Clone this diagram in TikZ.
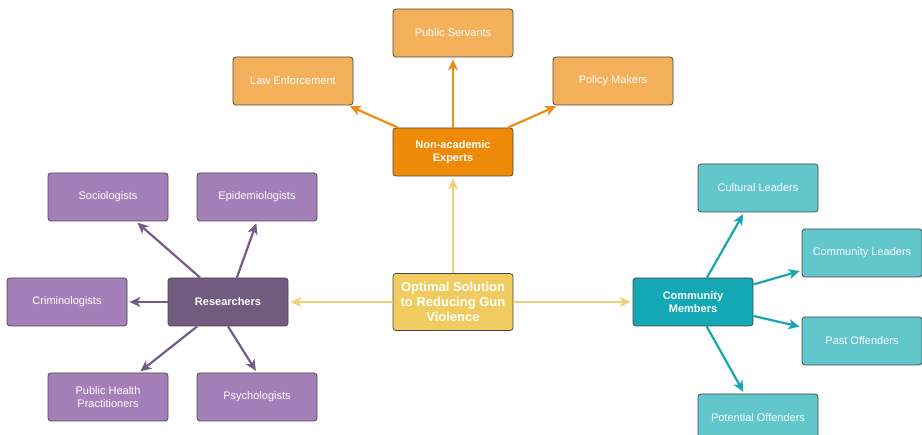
\documentclass[tikz,border=0pt]{standalone}
\usepackage{fontspec}
\setmainfont{Liberation Sans}
\usetikzlibrary{arrows.meta}
\definecolor{boxline}{RGB}{72,72,72}
\definecolor{sunfill}{RGB}{240,204,96}
\definecolor{sunline}{RGB}{242,208,118}
\definecolor{orangehub}{RGB}{239,138,8}
\definecolor{orangeleaf}{RGB}{244,176,90}
\definecolor{orangeline}{RGB}{236,140,28}
\definecolor{purplehub}{RGB}{115,90,128}
\definecolor{purpleleaf}{RGB}{165,127,184}
\definecolor{purpleline}{RGB}{115,92,135}
\definecolor{tealhub}{RGB}{20,168,180}
\definecolor{tealleaf}{RGB}{98,198,205}
\definecolor{tealline}{RGB}{22,166,178}

\begin{document}
\begin{tikzpicture}[x=1pt,y=-1pt,
  box/.style={draw=boxline, line width=0.8pt, rounded corners=3pt, text=white,
    minimum width=120pt, minimum height=48pt, align=center,
    font=\fontsize{11}{13.5}\selectfont},
  hub/.style={box, font=\fontsize{11}{13.5}\selectfont\bfseries},
  link/.style={->, line width=2.2pt, shorten >=2pt},
  >={Stealth[length=11pt,width=10pt,inset=3pt]}]
\clip (0,0) rectangle (922,435);
\useasboundingbox (0,0) rectangle (922,435);

\node[hub, fill=sunfill, minimum height=57pt, font=\fontsize{13}{15}\selectfont\bfseries] (opt) at (453,302) {Optimal Solution\\to Reducing Gun\\Violence};

\node[hub, fill=orangehub] (na) at (453,152) {Non-academic\\Experts};
\node[box, fill=orangeleaf] (ps) at (453,33) {Public Servants};
\node[box, fill=orangeleaf] (le) at (293,81) {Law Enforcement};
\node[box, fill=orangeleaf] (pm) at (613,81) {Policy Makers};

\node[hub, fill=purplehub] (rs) at (228,302) {Researchers};
\node[box, fill=purpleleaf] (soc) at (108,197) {Sociologists};
\node[box, fill=purpleleaf] (epi) at (257,197) {Epidemiologists};
\node[box, fill=purpleleaf] (crim) at (67,302) {Criminologists};
\node[box, fill=purpleleaf] (php) at (108,397) {Public Health\\Practitioners};
\node[box, fill=purpleleaf] (psy) at (257,397) {Psychologists};

\node[hub, fill=tealhub] (cm) at (693,302) {Community\\Members};
\node[box, fill=tealleaf] (cul) at (758,188) {Cultural Leaders};
\node[box, fill=tealleaf] (cl) at (862,253) {Community Leaders};
\node[box, fill=tealleaf] (po) at (862,341) {Past Offenders};
\node[box, fill=tealleaf] (pot) at (758,418) {Potential Offenders};

\draw[link, sunline, line width=2pt] (opt) -- (na);
\draw[link, sunline, line width=2pt] (opt) -- (rs);
\draw[link, sunline, line width=2pt] (opt) -- (cm);

\draw[link, orangeline] (na) -- (ps);
\draw[link, orangeline] (na) -- (le);
\draw[link, orangeline] (na) -- (pm);

\draw[link, purpleline] (rs) -- (soc);
\draw[link, purpleline] (rs.70) -- (epi.south);
\draw[link, purpleline] (rs) -- (crim);
\draw[link, purpleline] (rs) -- (php);
\draw[link, purpleline] (rs.south) -- (psy.north);

\draw[link, tealline] (cm) -- (cul);
\draw[link, tealline] (cm) -- (cl);
\draw[link, tealline] (cm) -- (po);
\draw[link, tealline] (cm) -- (pot);
\end{tikzpicture}
\end{document}
